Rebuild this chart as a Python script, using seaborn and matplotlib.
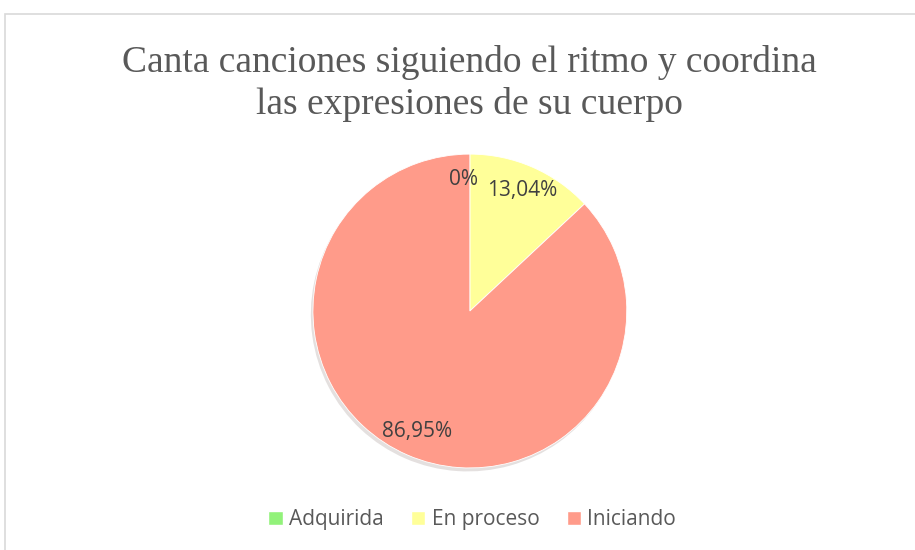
import matplotlib
matplotlib.use("Agg")
import matplotlib.pyplot as plt
import matplotlib.patheffects as pe
from matplotlib.patches import Rectangle
import numpy as np
import seaborn as sns

sns.set_style("white")
plt.rcParams['font.family'] = ['Open Sans', 'DejaVu Sans']

# Data
categories = ['Adquirida', 'En proceso', 'Iniciando']
values = [0.0, 13.04, 86.95]
pct_labels = ['0%', '13,04%', '86,95%']
colors = ['#92F27A', '#FFFF99', '#FF9B8A']

fig = plt.figure(figsize=(9.15, 5.5), dpi=100)

# chart frame
fig.patches.append(Rectangle((5 / 915, -0.1), 1.1, 1 - 14 / 550 + 0.1,
                             transform=fig.transFigure, fill=False,
                             edgecolor='#D9D9D9', linewidth=1.2))

fig.text(0.513, 0.848, 'Canta canciones siguiendo el ritmo y coordina\nlas expresiones de su cuerpo',
         ha='center', va='center', fontsize=27, color='#595959',
         family=['Liberation Serif', 'DejaVu Serif'], linespacing=1.28)

ax = fig.add_axes([0.342, 0.149, 0.343, 0.571])
wedges, texts = ax.pie(values, colors=colors, startangle=90, counterclock=False,
                       radius=1, wedgeprops=dict(linewidth=0.6, edgecolor='white'))
for w in wedges:
    w.set_path_effects([pe.SimplePatchShadow(offset=(-1.5, -2.5), alpha=0.15), pe.Normal()])

# percentage labels
start = 90.0
total = sum(values)
for v, lab in zip(values, pct_labels):
    sweep = v / total * 360
    mid = np.deg2rad(start - sweep / 2)
    r = 0.84
    x, y = r * np.cos(mid), r * np.sin(mid)
    if v == 0:
        x -= 0.04
    ax.text(x, y, lab, ha='center', va='center', fontsize=15, color='#404040')
    start -= sweep

ax.set_xlim(-1, 1)
ax.set_ylim(-1, 1)
ax.set_aspect('equal')
ax.axis('off')

handles = [Rectangle((0, 0), 1, 1, facecolor=c) for c in colors]
leg = fig.legend(handles, categories, loc='center', bbox_to_anchor=(0.516, 0.055), ncol=3,
                 frameon=False, fontsize=15, handlelength=0.7, handleheight=0.7,
                 handletextpad=0.3, columnspacing=1.3, labelcolor='#595959')

fig.savefig('out.png', dpi=100)
